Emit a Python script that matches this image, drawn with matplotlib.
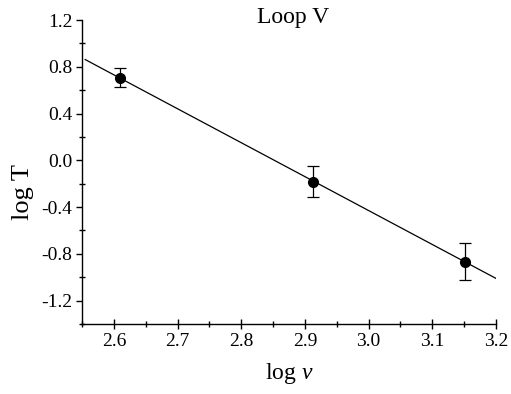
import numpy as np
import matplotlib
matplotlib.use('Agg')
import matplotlib.pyplot as plt
from matplotlib.ticker import MultipleLocator, FormatStrFormatter

plt.rcParams['font.family'] = ['Liberation Serif', 'DejaVu Serif']
plt.rcParams['mathtext.fontset'] = 'custom'
plt.rcParams['mathtext.rm'] = 'Liberation Serif'
plt.rcParams['mathtext.it'] = 'Liberation Serif:italic'

# measured points for loop V
log_v = [2.610, 2.913, 3.152]
log_T = [0.706, -0.186, -0.866]
err_lo = [0.083, 0.131, 0.160]   # distance down to lower bar end
err_hi = [0.085, 0.138, 0.157]   # distance up to upper bar end

# linear fit drawn across the whole x range
slope, icpt = np.polyfit(log_v, log_T, 1)
fit_x = np.array([2.555, 3.2])

fig = plt.figure(figsize=(5.11, 3.94), dpi=100)
ax = fig.add_axes([0.1605, 0.1777, 0.8101, 0.7715])

ax.plot(fit_x, slope * fit_x + icpt, color='black', lw=0.9)
ax.errorbar(log_v, log_T, yerr=[err_lo, err_hi], fmt='o', color='black',
            ms=7, elinewidth=0.9, capsize=4, capthick=0.9)

ax.set_xlim(2.55, 3.2)
ax.set_ylim(-1.4, 1.2)
ax.xaxis.set_major_locator(MultipleLocator(0.1))
ax.xaxis.set_minor_locator(MultipleLocator(0.05))
ax.yaxis.set_major_locator(MultipleLocator(0.4))
ax.yaxis.set_minor_locator(MultipleLocator(0.2))
ax.xaxis.set_major_formatter(FormatStrFormatter('%.1f'))
ax.yaxis.set_major_formatter(FormatStrFormatter('%.1f'))

for s in ['top', 'right']:
    ax.spines[s].set_visible(False)
for s in ['left', 'bottom']:
    ax.spines[s].set_linewidth(1.0)

ax.tick_params(axis='x', which='major', direction='inout', length=7, width=1, labelsize=14, pad=3)
ax.tick_params(axis='x', which='minor', direction='inout', length=4, width=1)
ax.tick_params(axis='y', which='major', direction='out', length=4, width=1, labelsize=14, pad=3)
ax.tick_params(axis='y', which='minor', direction='inout', length=4, width=1)

fig.text(293 / 511, 1 - 17 / 394, 'Loop V', ha='center', va='center', fontsize=17)
fig.text(289 / 511, 1 - 373 / 394, r'log $\mathit{v}$', ha='center', va='center', fontsize=17)
fig.text(23 / 511, 1 - 192 / 394, 'log T', ha='center', va='center', rotation=90, fontsize=19)

fig.savefig('out.png', dpi=100)
